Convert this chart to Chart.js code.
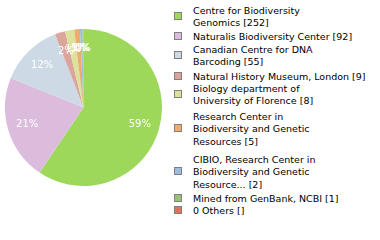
<!DOCTYPE html>
<html>
<head>
<meta charset="utf-8">
<script src="https://cdn.jsdelivr.net/npm/chart.js@4"></script>
<style>
  html, body { margin: 0; padding: 0; background: #fff; }
  #wrap { position: relative; width: 380px; height: 240px; overflow: hidden; }
  #pie { position: absolute; left: 0; top: 0; }
  .item { position: absolute; left: 193px; font: 9.5px "DejaVu Sans", sans-serif; line-height: 12.3px; color: #000; white-space: nowrap; }
  .box { position: absolute; left: 174px; width: 6px; height: 6px; border: 1px solid #808080; }
</style>
</head>
<body>
<div id="wrap">
  <canvas id="pie" width="167" height="215"></canvas>
</div>
<script>
// legend text is wrapped by hand, like the reference
const labels = [
  ['Centre for Biodiversity', 'Genomics [252]'],
  ['Naturalis Biodiversity Center [92]'],
  ['Canadian Centre for DNA', 'Barcoding [55]'],
  ['Natural History Museum, London [9]'],
  ['Biology department of', 'University of Florence [8]'],
  ['Research Center in', 'Biodiversity and Genetic', 'Resources [5]'],
  ['CIBIO, Research Center in', 'Biodiversity and Genetic', 'Resource... [2]'],
  ['Mined from GenBank, NCBI [1]'],
  ['0 Others []']
];
const values = [252, 92, 55, 9, 8, 5, 2, 1, 0];
const colors = ['#9dd85a', '#dcbcdc', '#cddae6', '#dca59c', '#dce29c', '#eeab70', '#9bbde0', '#9bc179', '#dd7458'];

// where each legend entry starts (top of first line)
const itemTop = [5, 31, 44, 71, 83, 111, 154, 193, 205];

const wrap = document.getElementById('wrap');
labels.forEach((lines, i) => {
  const t = document.createElement('div');
  t.className = 'item';
  t.style.top = itemTop[i] + 'px';
  t.innerHTML = lines.join('<br>');
  wrap.appendChild(t);
  const b = document.createElement('div');
  b.className = 'box';
  b.style.background = colors[i];
  b.style.top = Math.round(itemTop[i] + lines.length * 12.3 / 2 - 5) + 'px';
  wrap.appendChild(b);
});

const total = values.reduce((a, b) => a + b, 0);

const pctLabels = {
  id: 'pctLabels',
  afterDatasetsDraw(chart) {
    const ctx = chart.ctx;
    const arcs = chart.getDatasetMeta(0).data;
    ctx.save();
    ctx.fillStyle = '#fff';
    ctx.font = '10px "DejaVu Sans", sans-serif';
    ctx.textAlign = 'center';
    ctx.textBaseline = 'middle';
    arcs.forEach((arc, i) => {
      if (!values[i]) return;
      const p = arc.getProps(['x', 'y', 'startAngle', 'endAngle', 'outerRadius'], true);
      const a = (p.startAngle + p.endAngle) / 2;
      const r = p.outerRadius * 0.75;
      const txt = Math.floor(values[i] / total * 100) + '%';
      ctx.fillText(txt, p.x + Math.cos(a) * r, p.y + Math.sin(a) * r);
    });
    ctx.restore();
  }
};

new Chart(document.getElementById('pie'), {
  type: 'pie',
  data: {
    labels: labels.map(l => l.join(' ')),
    datasets: [{ data: values, backgroundColor: colors, borderWidth: 0 }]
  },
  options: {
    responsive: false,
    animation: false,
    layout: { padding: 5 },
    plugins: { legend: { display: false }, tooltip: { enabled: false } }
  },
  plugins: [pctLabels]
});
</script>
</body>
</html>
